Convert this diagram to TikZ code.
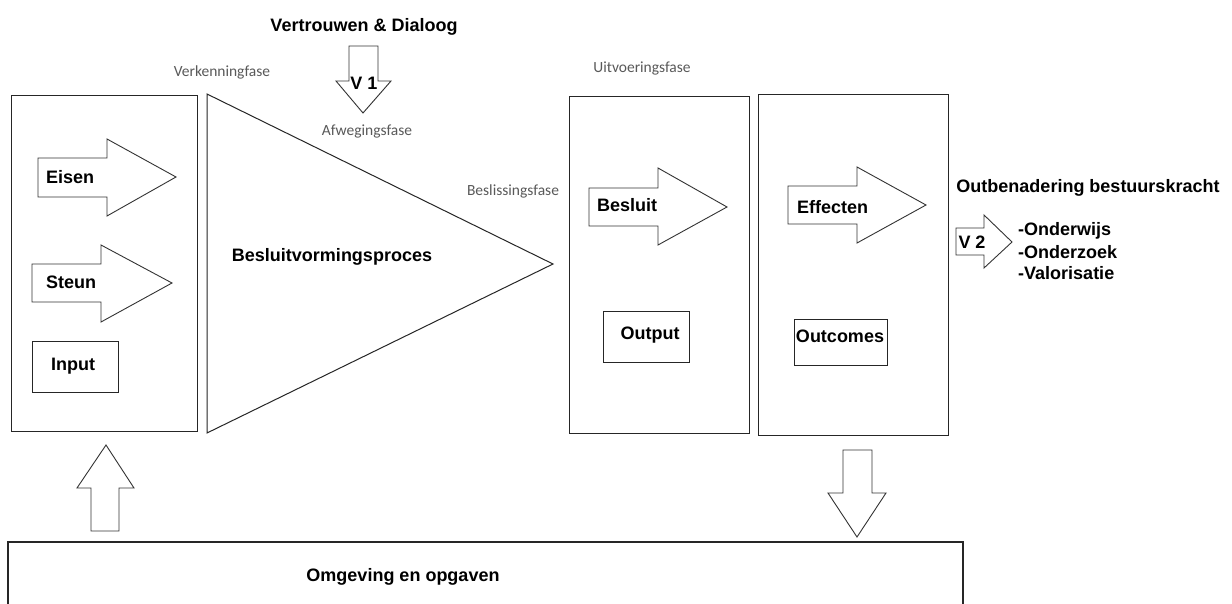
\documentclass[tikz,border=0pt]{standalone}
\usepackage{fontspec}
\setmainfont{Liberation Sans}
\newfontfamily\phasefont{Carlito}
\begin{document}
\begin{tikzpicture}[x=1pt,y=-1pt,
  frame/.style={draw=black!85,line width=1.3pt},
  blockarrow/.style={draw=black!80,line width=0.9pt,fill=white,line join=miter},
  label/.style={font=\fontsize{18}{20}\selectfont\bfseries,inner sep=0pt},
  phase/.style={font=\phasefont\fontsize{15.5}{17}\selectfont,text=black!65,inner sep=0pt},
  boxnode/.style={frame,line width=1.1pt,inner sep=0pt}]
\useasboundingbox (0,0) rectangle (1232,604);
\fill[white] (0,0) rectangle (1232,604);

% --- columns ---
\node[frame,inner sep=0pt,minimum width=186pt,minimum height=336pt,anchor=north west] (inbox) at (11,95) {};
\draw[frame,line width=1pt] (207,94) coordinate (tA) -- (553,264) coordinate (tB) -- (207,433) coordinate (tC) -- cycle;
\node[frame,inner sep=0pt,minimum width=180pt,minimum height=337pt,anchor=north west] (besbox) at (569,96) {};
\node[frame,inner sep=0pt,minimum width=190pt,minimum height=341pt,anchor=north west] (effbox) at (758,94) {};

% --- block arrows ---
\draw[blockarrow] (38,158)--(107,158)--(107,139)--(176,177)--(107,216)--(107,197)--(38,197)--cycle;
\draw[blockarrow] (32,264)--(101,264)--(101,245)--(172,283)--(101,322)--(101,302)--(32,302)--cycle;
\draw[blockarrow] (589,188)--(658,188)--(658,168)--(727,207)--(658,245)--(658,226)--(589,226)--cycle;
\draw[blockarrow] (788,186)--(857,186)--(857,167)--(926,205)--(857,243)--(857,224)--(788,224)--cycle;
\draw[blockarrow] (349,46)--(378,46)--(378,81)--(391,81)--(363,113)--(336,81)--(349,81)--cycle;
\draw[blockarrow] (956,228)--(984,228)--(984,215)--(1012,242)--(984,268)--(984,255)--(956,255)--cycle;
\draw[blockarrow] (91,531)--(91,488)--(77,488)--(106,445)--(134,488)--(119,488)--(119,531)--cycle;
\draw[blockarrow] (843,450)--(872,450)--(872,493)--(886,493)--(857,537)--(828,493)--(843,493)--cycle;

% --- small boxes ---
\node[boxnode,minimum width=86pt,minimum height=51pt,anchor=north west] (input) at (32,341) {};
\node[boxnode,minimum width=86pt,minimum height=51pt,anchor=north west] (output) at (603,311) {};
\node[boxnode,minimum width=93pt,minimum height=46pt,anchor=north west] (outcomes) at (794,319) {};

% --- environment bar (open at the lower edge) ---
\draw[frame] (8,612) -- (8,542) coordinate (envNW) -- (963,542) coordinate (envNE) -- (963,612);

% --- texts ---
\node[label] (tvd) at (364,27) {Vertrouwen \& Dialoog};
\node[label] (tv1) at (364,83) {V 1};
\node[label,anchor=west] (teisen) at (46,177) {Eisen};
\node[label,anchor=west] (tsteun) at (46,282) {Steun};
\node[label] (tinput) at (73,366) {Input};
\node[label] (tbvp) at (332,257) {Besluitvormingsproces};
\node[label,anchor=west] (tbesluit) at (597,205) {Besluit};
\node[label,anchor=west] (teffect) at (797,207) {Effecten};
\node[label] (toutput) at (650,335) {Output};
\node[label] (toutcomes) at (840,336) {Outcomes};
\node[label] (tobb) at (1088,188) {Outbenadering bestuurskracht};
\node[label] (tv2) at (972,242) {V 2};
\node[label,anchor=west] (tl1) at (1018,231) {-Onderwijs};
\node[label,anchor=west] (tl2) at (1018,252) {-Onderzoek};
\node[label,anchor=west] (tl3) at (1018,273) {-Valorisatie};
\node[label] (tomg) at (403,577) {Omgeving en opgaven};

\node[phase] (pverk) at (222,72) {Verkenningfase};
\node[phase] (pafw) at (367,132) {Afwegingsfase};
\node[phase] (pbesl) at (513,191) {Beslissingsfase};
\node[phase] (puitv) at (642,69) {Uitvoeringsfase};
\end{tikzpicture}
\end{document}
